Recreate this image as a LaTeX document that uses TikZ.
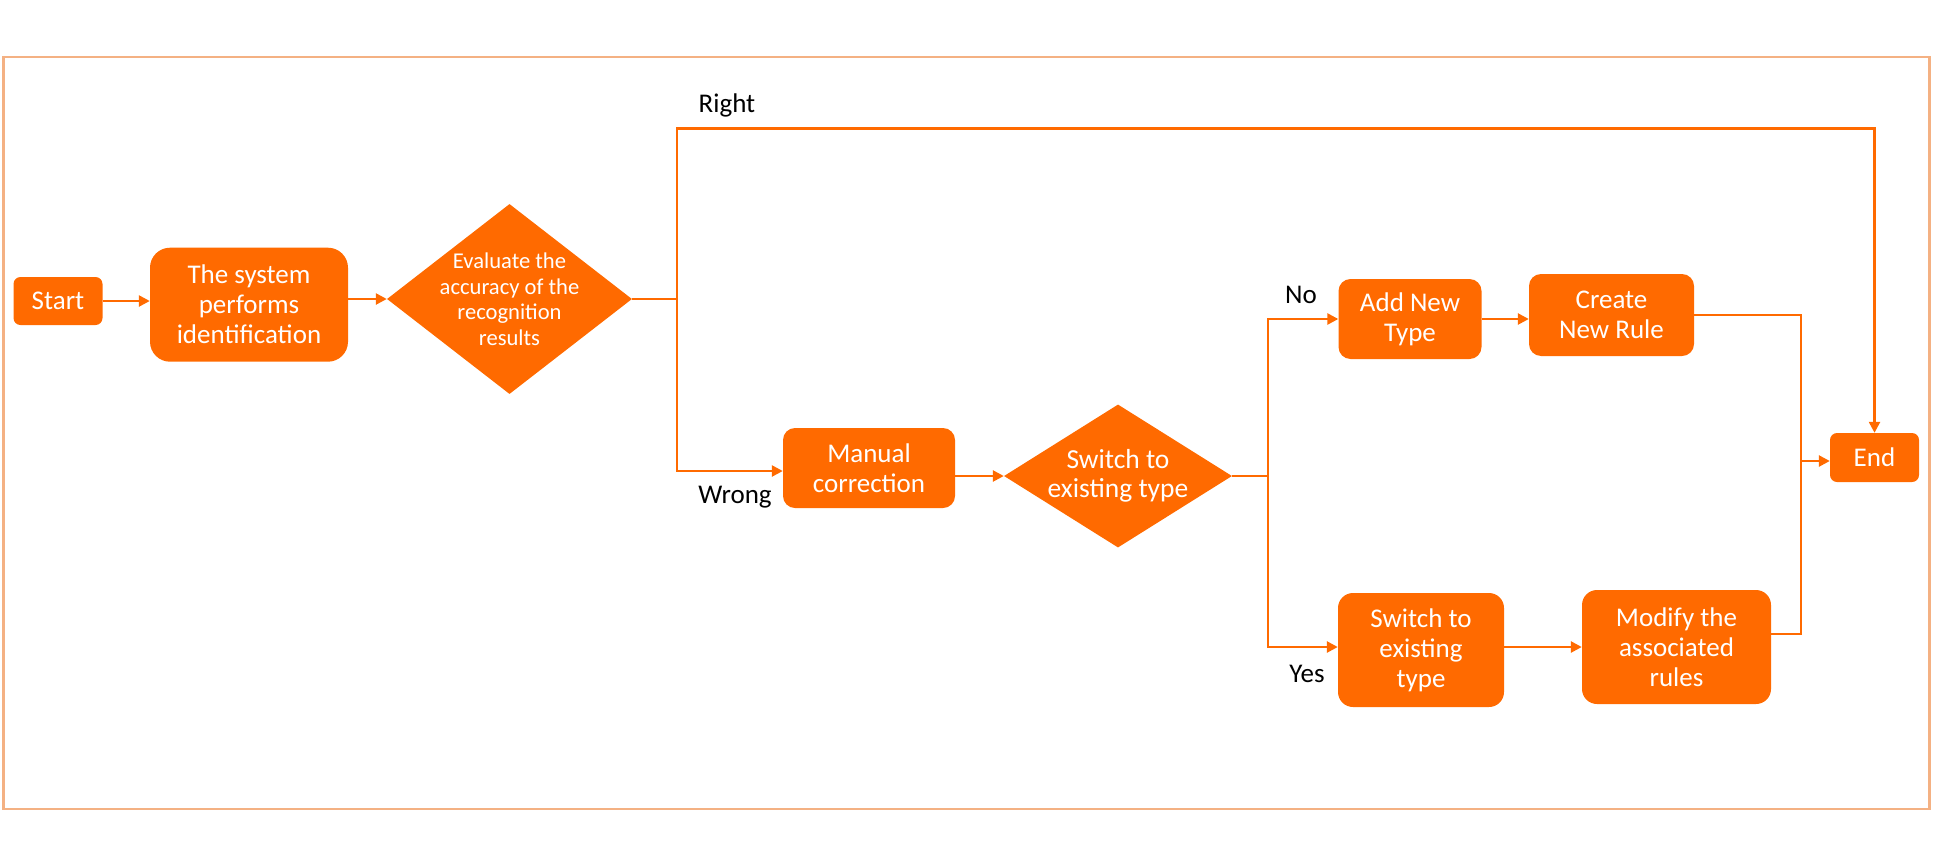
\documentclass[tikz,border=0pt]{standalone}
\usepackage{fontspec}
\setmainfont{Carlito}
\usetikzlibrary{shapes.geometric,arrows.meta}
\definecolor{org}{HTML}{FF6A00}
\definecolor{frm}{HTML}{F4B183}
\tikzset{
  box/.style={draw=none,fill=org,text=white,align=center,inner sep=0pt,font=\fontsize{27}{30}\selectfont},
  dia/.style={diamond,draw=none,fill=org,inner sep=0pt},
  dtext/.style={text=white,align=center,inner sep=0pt},
  lbl/.style={text=black,inner sep=0pt,font=\fontsize{27}{30}\selectfont},
  conn/.style={draw=org,line width=2.5pt},
  arr/.style={conn,-{Triangle[length=11pt,width=11pt]}},
  frame/.style={draw=frm,line width=2.5pt}
}
\begin{document}
\begin{tikzpicture}[x=1pt,y=-1pt]
\useasboundingbox (0,0) rectangle (1937,854);
\draw[frame] (3.7,56.8) rectangle (1929.5,809);

\node[box,minimum width=89pt,minimum height=48pt,rounded corners=7pt] (st) at (58,301) {Start};
\node[box,minimum width=198pt,minimum height=114pt,rounded corners=20pt] (sys) at (249,304.7) {The system\\performs\\identification};
\node[dia,minimum width=245pt,minimum height=190pt] (d1) at (509.5,299) {};
\node[dtext,font=\fontsize{22.6}{25.5}\selectfont] (d1t) at (509.5,299) {Evaluate the\\accuracy of the\\recognition\\results};
\node[box,minimum width=172pt,minimum height=80pt,rounded corners=12pt] (mc) at (869,468) {Manual\\correction};
\node[dia,minimum width=228pt,minimum height=143pt] (d2) at (1118,476) {};
\node[dtext,font=\fontsize{27.5}{29}\selectfont] (d2t) at (1118,476) {Switch to\\existing type};
\node[box,minimum width=143pt,minimum height=80pt,rounded corners=12pt] (ad) at (1410,319) {Add New\\Type};
\node[box,minimum width=165pt,minimum height=82pt,rounded corners=12pt] (cr) at (1611.5,315) {Create\\New Rule};
\node[box,minimum width=166pt,minimum height=114pt,rounded corners=15pt] (sw) at (1421,650) {Switch to\\existing\\type};
\node[box,minimum width=189pt,minimum height=114pt,rounded corners=15pt] (md) at (1676.5,647) {Modify the\\associated\\rules};
\node[box,minimum width=89pt,minimum height=49pt,rounded corners=7pt] (end) at (1874.5,457.5) {End};

\coordinate (j1) at (677,299);
\coordinate (t1) at (677,128.5);
\coordinate (j2) at (1268,476);
\coordinate (j3) at (1801,461);

\draw[arr] (st.east) -- (sys.west |- st.east);
\draw[arr] (sys.east |- d1.west) -- (d1.west);
\draw[conn] (d1.east) -- (j1);
\draw[arr] (j1) -- (t1) -| (end.north);
\draw[arr] (j1) |- ([yshift=-3pt]mc.west);
\draw[arr] (mc.east |- d2.west) -- (d2.west);
\draw[conn] (d2.east) -- (j2);
\draw[arr] (j2) |- (ad.west);
\draw[arr] (j2) |- ([yshift=3pt]sw.west);
\draw[arr] (ad.east) -- (cr.west |- ad.east);
\draw[arr] (sw.east |- md.west) -- (md.west);
\draw[conn] (cr.east) -| (j3);
\draw[conn] ([yshift=13pt]md.east) -| (j3);
\draw[arr] (j3) -- (end.west |- j3);

\node[lbl] (lr) at (727,105) {Right};
\node[lbl] (lw) at (735,497) {Wrong};
\node[lbl] (ln) at (1301,295) {No};
\node[lbl] (ly) at (1307,674) {Yes};
\end{tikzpicture}
\end{document}
